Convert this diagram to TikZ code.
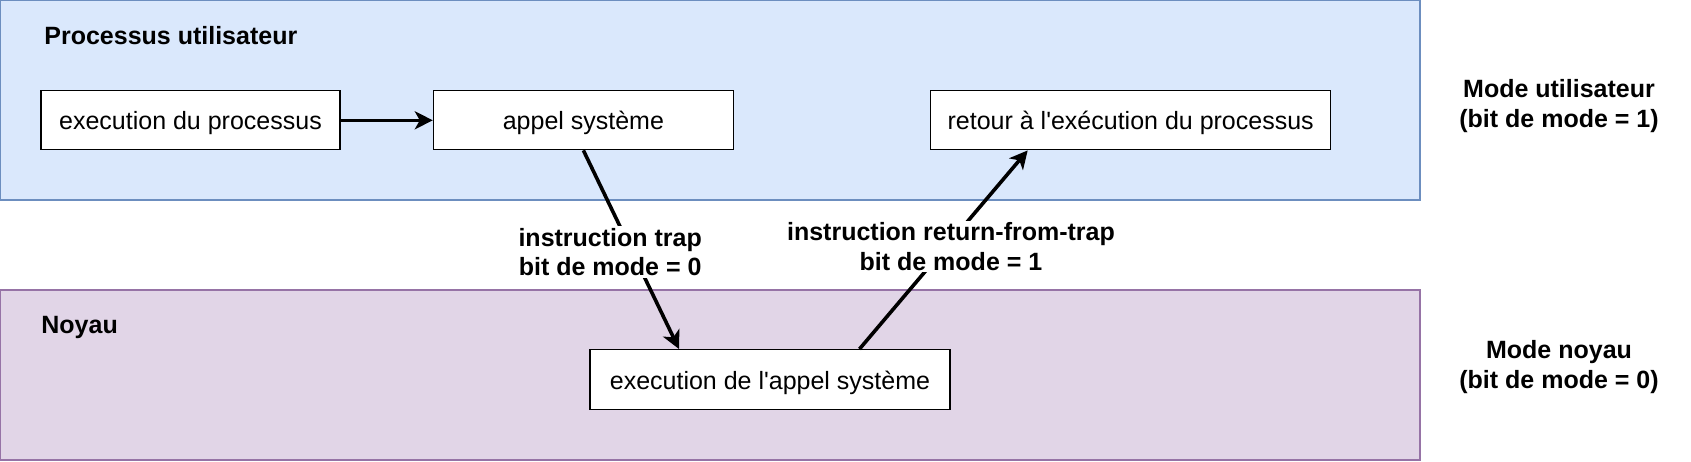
\documentclass[tikz,border=0pt]{standalone}
\usepackage{fontspec}
\setmainfont{Liberation Sans}
\usetikzlibrary{arrows.meta}
\definecolor{bluefill}{HTML}{DAE8FC}
\definecolor{bluedraw}{HTML}{6C8EBF}
\definecolor{purfill}{HTML}{E1D5E7}
\definecolor{purdraw}{HTML}{9673A6}
\begin{document}
\begin{tikzpicture}[x=0.5pt,y=-0.5pt,
  font=\fontsize{12.5}{14.6}\selectfont,
  box/.style={draw=black,fill=white,line width=0.6pt,minimum height=29.5pt,inner sep=0pt,text height=9.5pt,text depth=0pt},
  zone/.style={line width=0.6pt},
  conn/.style={line width=1.8pt,-{Stealth[length=9pt,width=9pt,inset=2.5pt]}},
  lbl/.style={font=\fontsize{12.5}{14.6}\selectfont\bfseries,align=center,fill=white,inner sep=1pt},
  ztitle/.style={font=\fontsize{12.5}{14.6}\selectfont\bfseries,anchor=west,inner sep=0pt},
  side/.style={font=\fontsize{12.5}{14.8}\selectfont\bfseries,align=center,inner sep=0pt}]
\useasboundingbox (0,0) rectangle (1691,461);
\path[zone,fill=bluefill,draw=bluedraw] (0.6,0.6) rectangle (1420,200);
\path[zone,fill=purfill,draw=purdraw] (0.6,290) rectangle (1420,460);

\node[ztitle] (pu) at (44,36) {Processus utilisateur};
\node[ztitle] (noy) at (41,327) {Noyau};

\node[box,minimum width=149.5pt] (exec) at (190.5,120.3) {execution du processus};
\node[box,minimum width=150pt] (appel) at (583.4,120.3) {appel système};
\node[box,minimum width=200pt] (retour) at (1130.7,120.3) {retour à l\textquotesingle exécution du processus};
\node[box,minimum width=180pt,minimum height=30pt] (kexec) at (770,379.6) {execution de l\textquotesingle appel système};

\node[side] (mu) at (1559,106) {Mode utilisateur\\(bit de mode = 1)};
\node[side] (mn) at (1559,367) {Mode noyau\\(bit de mode = 0)};

\draw[conn] (exec) -- (appel);
\draw[conn] (appel.south) -- ([xshift=-45.5pt]kexec.north)
  node[lbl,pos=0.5,xshift=-10.5pt,yshift=-1.2pt] (ltrap) {instruction trap\\bit de mode = 0};
\draw[conn] ([xshift=44.75pt]kexec.north) -- ([xshift=-51.5pt]retour.south)
  node[lbl,pos=0.526,xshift=1.5pt,yshift=-1pt] (lret) {instruction return-from-trap\\bit de mode = 1};
\end{tikzpicture}
\end{document}
